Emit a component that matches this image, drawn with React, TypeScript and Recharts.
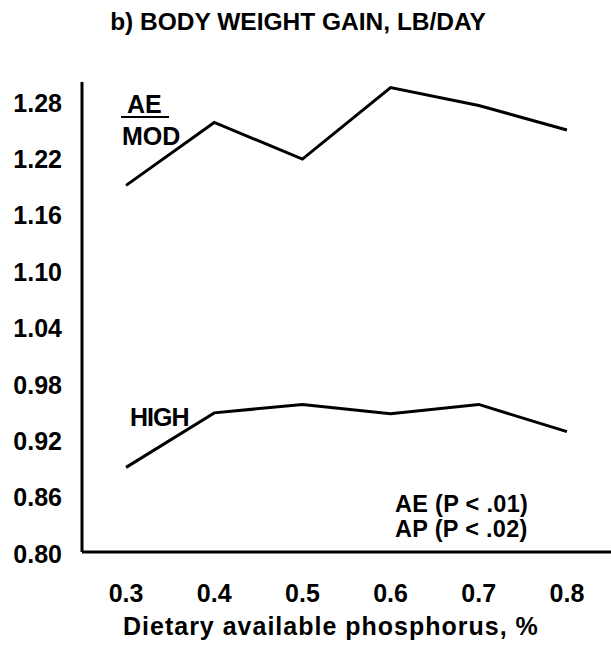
import { Line, LineChart, XAxis, YAxis } from 'recharts';

const phosphorus = [0.3, 0.4, 0.5, 0.6, 0.7, 0.8];
const modGain = [1.19, 1.257, 1.218, 1.294, 1.275, 1.249];
const highGain = [0.89, 0.948, 0.957, 0.947, 0.957, 0.928];
const yTicks = [0.8, 0.86, 0.92, 0.98, 1.04, 1.1, 1.16, 1.22, 1.28];

const data = phosphorus.map((p, i) => ({ p, mod: modGain[i], high: highGain[i] }));

const font = '"Liberation Sans", Arial, sans-serif';
const tickStyle = { fontSize: 25, fontWeight: 700, fill: '#000', fontFamily: font };

export default function App() {
    return (
        <div style={{ position: 'absolute', left: 0, top: 0, width: 611, height: 656, background: '#fff' }}>
            <LineChart width={611} height={656} data={data} margin={{ top: 82, right: 0, bottom: 44, left: 0 }}>
                <XAxis
                    dataKey="p"
                    type="number"
                    domain={[0.25, 0.85]}
                    ticks={phosphorus}
                    tickFormatter={(v) => v.toFixed(1)}
                    height={60}
                    stroke="#000"
                    strokeWidth={3}
                    tickLine={false}
                    tickSize={0}
                    tickMargin={32}
                    tick={tickStyle}
                />
                <YAxis
                    type="number"
                    domain={[0.8, 1.3]}
                    ticks={yTicks}
                    allowDataOverflow
                    tickFormatter={(v) => v.toFixed(2)}
                    width={82}
                    stroke="#000"
                    strokeWidth={3}
                    tickLine={false}
                    tickSize={0}
                    tickMargin={20}
                    tick={{ ...tickStyle, dy: 2 }}
                />
                <Line dataKey="mod" stroke="#000" strokeWidth={3} dot={false} isAnimationActive={false} />
                <Line dataKey="high" stroke="#000" strokeWidth={3} dot={false} isAnimationActive={false} />
            </LineChart>
            <svg width={611} height={656} style={{ position: 'absolute', left: 0, top: 0, pointerEvents: 'none' }}>
                <g fontFamily={font} fontWeight={700} fontSize={25} fill="#000">
                    <text x={298} y={30} textAnchor="middle" fontSize={24.5}>b) BODY WEIGHT GAIN, LB/DAY</text>
                    <text x={127} y={113}>AE</text>
                    <line x1={121} x2={169} y1={117} y2={117} stroke="#000" strokeWidth={2} />
                    <text x={122} y={145}>MOD</text>
                    <text x={130} y={426} letterSpacing={-1}>HIGH</text>
                    <text x={395} y={512} fontSize={23.5} letterSpacing={0.3}>AE (P &lt; .01)</text>
                    <text x={395} y={537} fontSize={23.5} letterSpacing={0.3}>AP (P &lt; .02)</text>
                    <text x={123} y={635} letterSpacing={1}>Dietary available phosphorus, %</text>
                </g>
            </svg>
        </div>
    );
}
